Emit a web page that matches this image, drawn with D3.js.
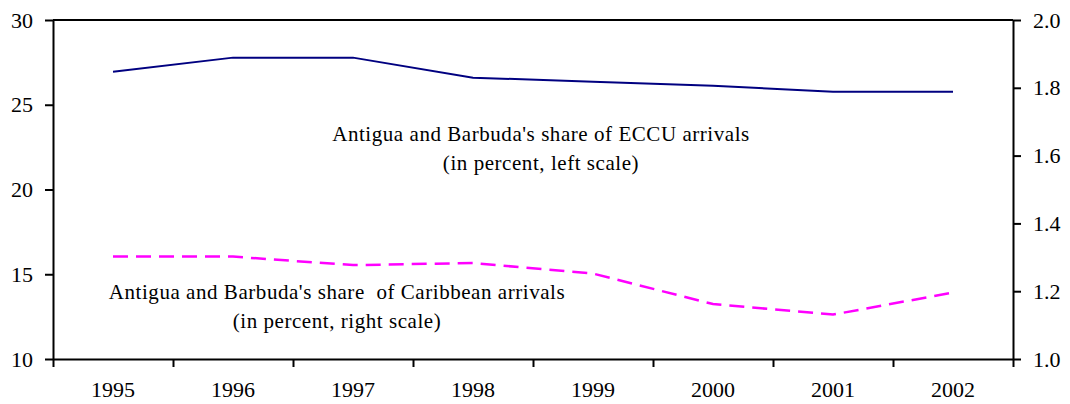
<!DOCTYPE html>
<meta charset="utf-8">
<style>
body { margin: 0; background: #fff; }
svg text { font-family: "Liberation Serif", "Times New Roman", serif; fill: #000; }
.axis path, .axis line { stroke: #000; stroke-width: 2; }
.axis text { font-size: 22px; }
.note { font-size: 21px; letter-spacing: 0.55px; white-space: pre; }
</style>
<body>
<script src="https://d3js.org/d3.v7.min.js"></script>
<script>

// data
var years = ["1995", "1996", "1997", "1998", "1999", "2000", "2001", "2002"];
var eccuShare = [26.95, 27.78, 27.78, 26.6, 26.36, 26.12, 25.77, 25.77];      // left scale
var caribShare = [1.302, 1.302, 1.277, 1.283, 1.252, 1.162, 1.131, 1.196];   // right scale
var leftTicks = [10, 15, 20, 25, 30];
var rightTicks = [1.0, 1.2, 1.4, 1.6, 1.8, 2.0];

var width = 1070, height = 404;
var plotL = 53, plotR = 1013, plotT = 20, plotB = 359;

var svg = d3.select("body").append("svg")
    .attr("width", width)
    .attr("height", height);

// scales
var x = d3.scaleBand().domain(years).range([plotL, plotR]).padding(0);
var xEdge = d3.scaleLinear().domain([0, years.length]).range([plotL, plotR]);
var yL = d3.scaleLinear().domain([10, 30]).range([plotB, plotT]);
var yR = d3.scaleLinear().domain([1, 2]).range([plotB, plotT]);

// top frame line
svg.append("line")
    .attr("x1", plotL).attr("x2", plotR)
    .attr("y1", plotT).attr("y2", plotT)
    .attr("stroke", "#000").attr("stroke-width", 2);

// x axis: boundary ticks + centered labels
svg.append("g")
    .attr("class", "axis")
    .attr("transform", "translate(0," + plotB + ")")
    .call(d3.axisBottom(xEdge).ticks(years.length).tickSize(8).tickSizeOuter(0).tickFormat(""));

svg.append("g")
    .attr("class", "axis")
    .attr("transform", "translate(0," + plotB + ")")
    .call(d3.axisBottom(x).tickSize(0).tickPadding(22))
    .call(function(g) { g.select(".domain").remove(); });

// left axis
svg.append("g")
    .attr("class", "axis")
    .attr("transform", "translate(" + plotL + ",0)")
    .call(d3.axisLeft(yL).tickValues(leftTicks).tickSize(8).tickSizeOuter(0).tickPadding(12));

// right axis
svg.append("g")
    .attr("class", "axis")
    .attr("transform", "translate(" + plotR + ",0)")
    .call(d3.axisRight(yR).tickValues(rightTicks).tickSize(8).tickSizeOuter(0).tickPadding(12)
        .tickFormat(d3.format(".1f")));

// lines
var lineL = d3.line()
    .x(function(d, i) { return x(years[i]) + x.bandwidth() / 2; })
    .y(function(d) { return yL(d); });
var lineR = d3.line()
    .x(function(d, i) { return x(years[i]) + x.bandwidth() / 2; })
    .y(function(d) { return yR(d); });

svg.append("path")
    .datum(eccuShare)
    .attr("d", lineL)
    .attr("fill", "none")
    .attr("stroke", "#000080")
    .attr("stroke-width", 2);

svg.append("path")
    .datum(caribShare)
    .attr("d", lineR)
    .attr("fill", "none")
    .attr("stroke", "#ff00ff")
    .attr("stroke-width", 2.5)
    .attr("stroke-dasharray", "15,8");

// annotations
function note(lines, cx, y0) {
  var t = svg.append("text").attr("class", "note").attr("text-anchor", "middle");
  lines.forEach(function(s, i) {
    t.append("tspan").attr("x", cx).attr("y", y0 + i * 29).text(s);
  });
}
note(["Antigua and Barbuda's share of ECCU arrivals", "(in percent, left scale)"], 541, 141);
note(["Antigua and Barbuda's share  of Caribbean arrivals", "(in percent, right scale)"], 337, 299);

</script>
</body>
